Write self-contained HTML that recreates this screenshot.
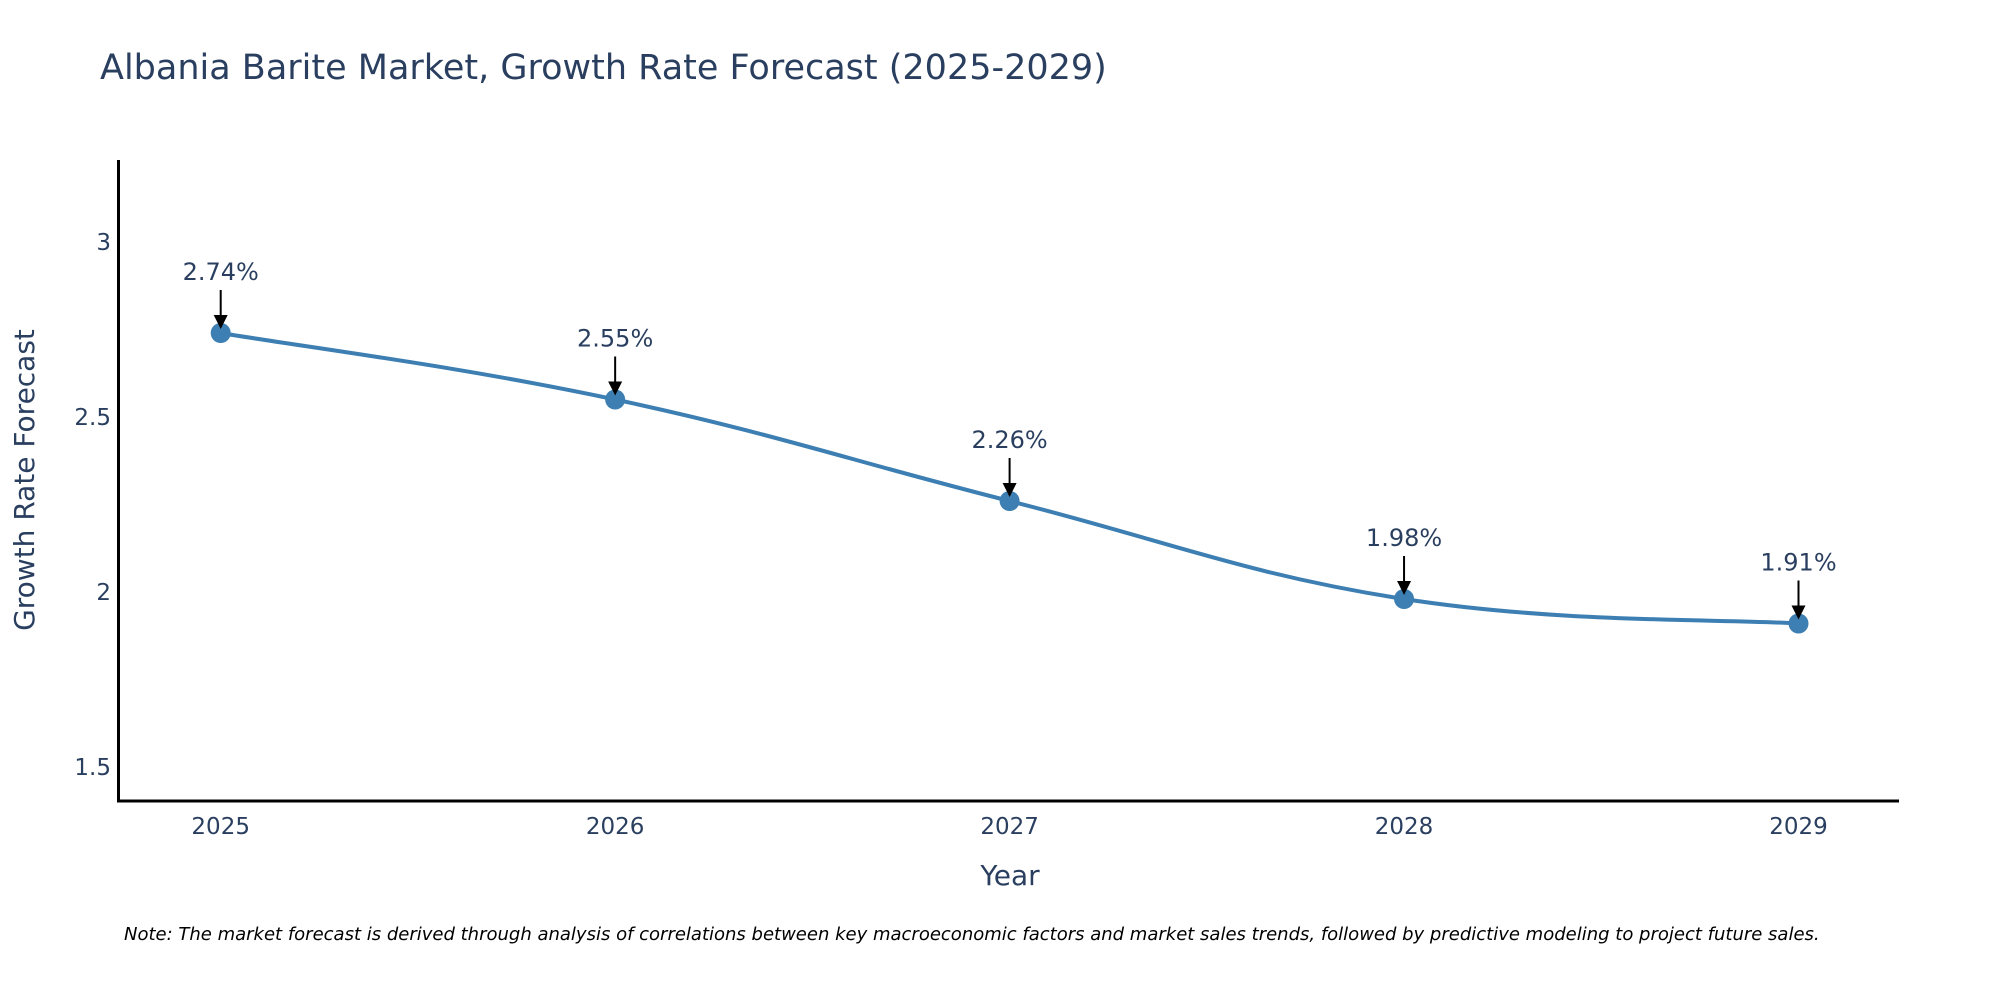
<!DOCTYPE html>
<html><head><meta charset="utf-8"><style>
html,body{margin:0;padding:0;background:#fff;}
svg{display:block;font-family:"DejaVu Sans","Liberation Sans",sans-serif;}
</style></head><body>
<svg id="chart" width="2000" height="1000" viewBox="0 0 2000 1000">
<text x="100" y="79" font-size="35" fill="#2a3f5f">Albania Barite Market, Growth Rate Forecast (2025-2029)</text>
<g id="yticks"></g><g id="xticks"></g>
<path id="line" fill="none" stroke="#3d7fb2" stroke-width="4"></path>
<g id="marks"></g>
<line x1="118.5" y1="160" x2="118.5" y2="802" stroke="#000" stroke-width="3"/>
<line x1="117" y1="801" x2="1899" y2="801" stroke="#000" stroke-width="3"/>
<text x="0" y="0" transform="translate(34,480) rotate(-90)" text-anchor="middle" font-size="28" fill="#2a3f5f">Growth Rate Forecast</text>
<text x="1010" y="885" text-anchor="middle" font-size="28" fill="#2a3f5f">Year</text>
<text x="124" y="940" font-size="18" font-style="italic" fill="#000">Note: The market forecast is derived through analysis of correlations between key macroeconomic factors and market sales trends, followed by predictive modeling to project future sales.</text>
</svg>
<script>
const years = [2025, 2026, 2027, 2028, 2029];
const growth = [2.74, 2.55, 2.26, 1.98, 1.91];
const labels = ["2.74%", "2.55%", "2.26%", "1.98%", "1.91%"];
const yTickVals = [1.5, 2, 2.5, 3];
const yTickLabels = ["1.5", "2", "2.5", "3"];

const NS = "http://www.w3.org/2000/svg";
function xs(v){ return 220.7 + (v - 2025) * 394.45; }
function ys(v){ return 242 + (3 - v) * 350; }
function mk(tag, attrs, parent, txt){
  const e = document.createElementNS(NS, tag);
  for (const k in attrs) e.setAttribute(k, attrs[k]);
  if (txt !== undefined) e.textContent = txt;
  parent.appendChild(e); return e;
}
const yt = document.getElementById('yticks');
yTickVals.forEach((v, i) => {
  const t = mk('text', {x:111, y:ys(v)+8, 'text-anchor':'end', 'font-size':23, fill:'#2a3f5f'}, yt, yTickLabels[i]);
  
  
});
const xt = document.getElementById('xticks');
years.forEach(y => {
  const t = mk('text', {x:xs(y), y:834, 'text-anchor':'middle', 'font-size':23, fill:'#2a3f5f'}, xt, String(y));
  
  
});
const pts = years.map((y, i) => [xs(y), ys(growth[i])]);
let d = `M${pts[0][0]},${pts[0][1]}`;
const s = 0.2;
for (let i = 0; i < pts.length - 1; i++){
  const p0 = pts[Math.max(0, i-1)], p1 = pts[i], p2 = pts[i+1], p3 = pts[Math.min(pts.length-1, i+2)];
  const c1 = [p1[0] + (p2[0]-p0[0])*s, p1[1] + (p2[1]-p0[1])*s];
  const c2 = [p2[0] - (p3[0]-p1[0])*s, p2[1] - (p3[1]-p1[1])*s];
  d += ` C${c1[0]},${c1[1]} ${c2[0]},${c2[1]} ${p2[0]},${p2[1]}`;
}
document.getElementById('line').setAttribute('d', d);
const mg = document.getElementById('marks');
pts.forEach((p, i) => {
  const c = mk('circle', {cx:p[0], cy:p[1], r:10, fill:'#3d7fb2'}, mg);
  
  
  const l = mk('line', {x1:p[0], y1:p[1]-43, x2:p[0], y2:p[1]-16, stroke:'#000', 'stroke-width':2}, mg);
  
  
  const h = mk('polygon', {points:`${p[0]-7},${p[1]-18} ${p[0]+7},${p[1]-18} ${p[0]},${p[1]-4}`, fill:'#000'}, mg);
  
  
  const t = mk('text', {x:p[0], y:p[1]-53, 'text-anchor':'middle', 'font-size':24, fill:'#2a3f5f'}, mg, labels[i]);
  
  
});
</script>
</body></html>
